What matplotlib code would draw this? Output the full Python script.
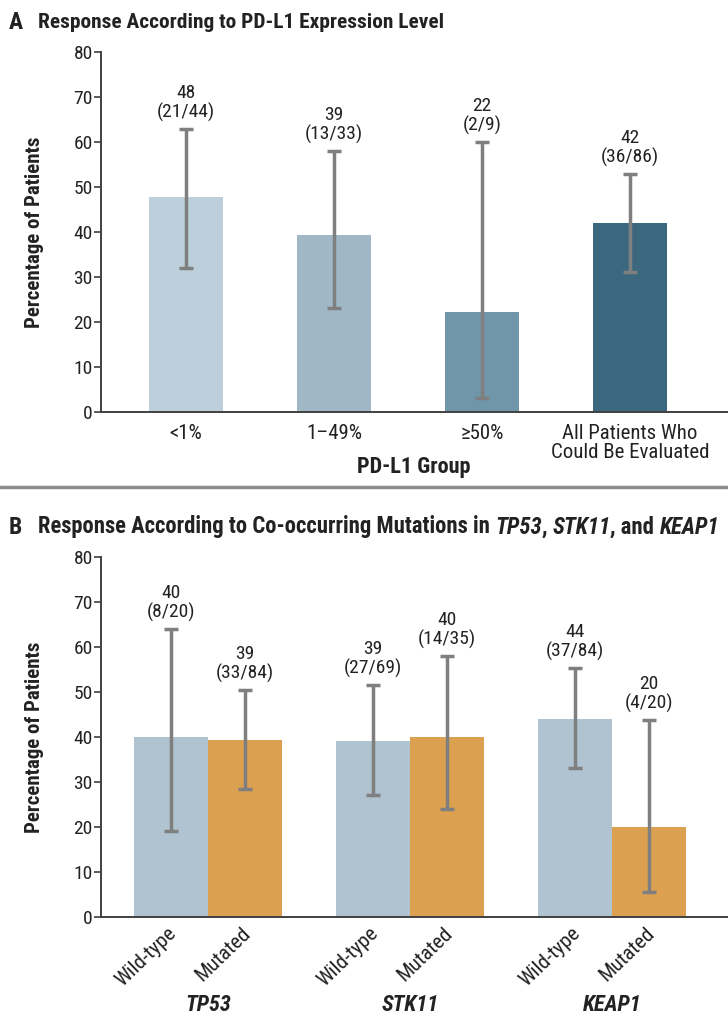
import matplotlib
matplotlib.use('Agg')
import matplotlib.pyplot as plt
import matplotlib.transforms as mtransforms
import numpy as np

plt.rcParams['font.family'] = ['Roboto Condensed', 'Liberation Sans Narrow',
                               'Liberation Sans', 'DejaVu Sans']

# Panel A data
pdl1_groups = ['<1%', '1\u201349%', '\u226550%', 'All Patients Who\nCould Be Evaluated']
pdl1_pct    = [47.7, 39.4, 22.2, 41.9]
pdl1_lo     = [32, 23, 3, 31]
pdl1_hi     = [63, 58, 60, 53]
pdl1_rounded = [48, 39, 22, 42]
pdl1_counts = ['21/44', '13/33', '2/9', '36/86']
pdl1_colors = ['#BDCFDA', '#A0B8C5', '#7096AA', '#3B687F']

# Panel B data
genes      = ['TP53', 'STK11', 'KEAP1']
status     = ['Wild-type', 'Mutated']
mut_pct    = [[40.0, 39.3], [39.1, 40.0], [44.0, 20.0]]
mut_lo     = [[19, 28.5], [27.2, 24], [33, 5.5]]
mut_hi     = [[64, 50.5], [51.5, 58], [55.3, 43.7]]
mut_rounded = [[40, 39], [39, 40], [44, 20]]
mut_counts = [['8/20', '33/84'], ['27/69', '14/35'], ['37/84', '4/20']]
status_colors = ['#AFC4D0', '#DCA150']

err_color  = '#7F7F7F'
axis_color = '#404040'
txt_color  = '#222222'
fs_tick = 14
fs_val = 14
fs_xlab = 15
fs_bold = 16

fig = plt.figure(figsize=(7.28, 10.14), dpi=100)


def style_axis(ax):
    for s in ['top', 'right']:
        ax.spines[s].set_visible(False)
    for s in ['left', 'bottom']:
        ax.spines[s].set_color(axis_color)
        ax.spines[s].set_linewidth(1.4)
    ax.set_ylim(0, 80)
    ax.set_yticks(range(0, 81, 10))
    ax.tick_params(axis='y', direction='out', length=5, width=1.2, color=axis_color,
                   labelsize=fs_tick, labelcolor=txt_color, pad=1)
    ax.tick_params(axis='x', length=0, labelsize=fs_xlab, labelcolor=txt_color)
    ax.set_ylabel('Percentage of Patients', fontsize=15, fontweight='bold',
                  color=txt_color)
    ax.yaxis.set_label_coords(-0.091, 0.5)


def add_bar(ax, x, w, val, lo, hi, color, rounded, count):
    ax.bar(x, val, width=w, color=color, zorder=1)
    ax.errorbar(x, val, yerr=[[val - lo], [hi - val]], fmt='none', ecolor=err_color,
                elinewidth=2.5, capsize=5, capthick=2.5, zorder=2)
    ax.annotate('%d\n(%s)' % (rounded, count), (x, hi), xytext=(0, 5),
                textcoords='offset points', ha='center', va='bottom',
                fontsize=fs_val, color=txt_color, linespacing=1.05)


# ---- Panel A ----
axA = fig.add_axes([0.1387, 0.5937, 0.86, 0.355])
style_axis(axA)
xa = np.arange(len(pdl1_groups))
for i in xa:
    add_bar(axA, i, 0.495, pdl1_pct[i], pdl1_lo[i], pdl1_hi[i], pdl1_colors[i],
            pdl1_rounded[i], pdl1_counts[i])
axA.set_xlim(-0.574, 3.655)
axA.set_xticks(xa)
axA.set_xticklabels(pdl1_groups, linespacing=1.0, va='top')
axA.tick_params(axis='x', pad=8.5)
axA.text(0.5, -0.152, 'PD-L1 Group', transform=axA.transAxes, ha='center',
         va='center', fontsize=fs_bold, fontweight='bold', color=txt_color)

# separator
fig.add_artist(plt.Line2D([0, 1], [1 - 487 / 1014] * 2, color='#8C8C8C', lw=2.5))

# ---- Panel B ----
axB = fig.add_axes([0.1387, 0.0957, 0.86, 0.355])
style_axis(axB)
off = 0.183
w = 0.366
tick_pos = []
tick_lab = []
for g in range(len(genes)):
    for s in range(2):
        x = g + (s - 0.5) * 2 * off
        add_bar(axB, x, w, mut_pct[g][s], mut_lo[g][s], mut_hi[g][s],
                status_colors[s], mut_rounded[g][s], mut_counts[g][s])
        tick_pos.append(x)
        tick_lab.append(status[s])
axB.set_xlim(-0.53, 2.569)
axB.set_xticks(tick_pos)
axB.set_xticklabels(tick_lab, rotation=44, ha='right', rotation_mode='anchor',
                    fontsize=15)
axB.tick_params(axis='x', pad=5)
for lab in axB.get_xticklabels():
    lab.set_transform(lab.get_transform() +
                      mtransforms.ScaledTranslation(-4 / 100, 0, fig.dpi_scale_trans))
for g, name in enumerate(genes):
    axB.text(g, -0.244, name, transform=axB.get_xaxis_transform(), ha='center',
             va='center', fontsize=fs_bold, fontweight='bold', style='italic',
             color=txt_color)

# ---- titles, fitted to the widths in the reference ----
fig.canvas.draw()
renderer = fig.canvas.get_renderer()


def title_line(y, letter, pieces, target_px, size):
    fig.text(0.012, y, letter, fontsize=17, fontweight='bold',
             color=txt_color, va='center')
    # measure total width at this size, then rescale
    total = 0
    for txt, st in pieces:
        t = fig.text(0, 0, txt, fontsize=size, fontweight='bold', style=st)
        total += t.get_window_extent(renderer=renderer).width
        t.remove()
    size = size * target_px / total
    xpos = 0.052
    for txt, st in pieces:
        t = fig.text(xpos, y, txt, fontsize=size, fontweight='bold', style=st,
                     color=txt_color, va='center')
        xpos += t.get_window_extent(renderer=renderer).width / fig.bbox.width


title_line(0.978, 'A', [('Response According to PD-L1 Expression Level', 'normal')],
           407, 15)
title_line(1 - 527 / 1014, 'B',
           [('Response According to Co-occurring Mutations in ', 'normal'),
            ('TP53', 'italic'), (', ', 'normal'), ('STK11', 'italic'),
            (', and ', 'normal'), ('KEAP1', 'italic')], 682, 15)

fig.savefig('out.png', dpi=100)
